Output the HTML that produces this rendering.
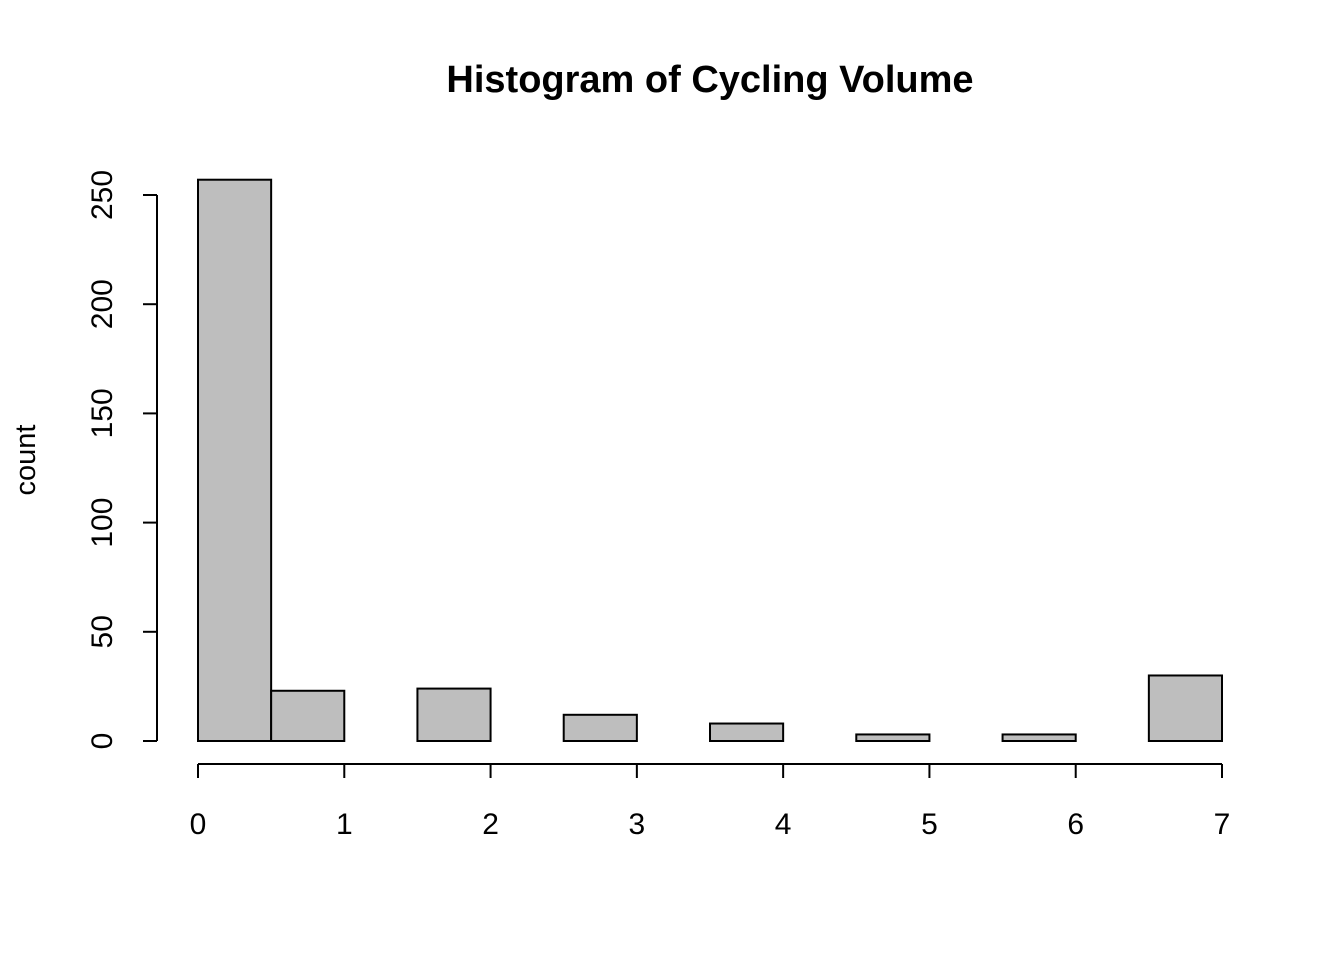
<!DOCTYPE html>
<html><head><meta charset="utf-8"><style>
html,body{margin:0;padding:0;background:#fff;}
svg{display:block;font-family:"Liberation Sans",Arial,sans-serif;}
</style></head><body>
<svg id="chart" width="1344" height="960" viewBox="0 0 1344 960">
<text x="710" y="92" text-anchor="middle" font-size="38" font-weight="bold">Histogram of Cycling Volume</text>
<text transform="translate(35,460) rotate(-90)" text-anchor="middle" font-size="29">count</text>
<g id="bars"></g>
<g id="yaxis"></g>
<g id="xaxis"></g>
</svg>
<script>
const binStarts = [0,0.5,1,1.5,2,2.5,3,3.5,4,4.5,5,5.5,6,6.5];
const counts = [257,23,0,24,0,12,0,8,0,3,0,3,0,30];
const binWidth = 0.5;
const yTicks = [0,50,100,150,200,250];
const xTicks = [0,1,2,3,4,5,6,7];

const NS = "http://www.w3.org/2000/svg";
function xs(v){ return 198 + v*(1222-198)/7; }
function ys(v){ return 741 - v*(741-195)/250; }
function mk(tag, attrs, parent){
  const e = document.createElementNS(NS, tag);
  for (const k in attrs) e.setAttribute(k, attrs[k]);
  parent.appendChild(e); return e;
}
const bars = document.getElementById('bars');
binStarts.forEach((b,i)=>{
  const x0 = xs(b), x1 = xs(b+binWidth), y0 = ys(counts[i]);
  const r = mk('rect', {x:x0, y:y0, width:x1-x0, height:ys(0)-y0, fill:'#bebebe', stroke:'#000', 'stroke-width':2}, bars);
  
  
});
const ya = document.getElementById('yaxis');
mk('line', {x1:157, x2:157, y1:ys(yTicks[0]), y2:ys(yTicks[yTicks.length-1]), stroke:'#000', 'stroke-width':2}, ya);
yTicks.forEach(t=>{
  mk('line', {x1:143, x2:157, y1:ys(t), y2:ys(t), stroke:'#000', 'stroke-width':2}, ya);
  const tx = mk('text', {transform:`translate(112,${ys(t)}) rotate(-90)`, 'text-anchor':'middle', 'font-size':30}, ya);
  tx.textContent = t;
  
  
});
const xa = document.getElementById('xaxis');
mk('line', {x1:xs(xTicks[0]), x2:xs(xTicks[xTicks.length-1]), y1:764, y2:764, stroke:'#000', 'stroke-width':2}, xa);
xTicks.forEach(t=>{
  mk('line', {x1:xs(t), x2:xs(t), y1:764, y2:778, stroke:'#000', 'stroke-width':2}, xa);
  const tx = mk('text', {x:xs(t), y:834, 'text-anchor':'middle', 'font-size':30}, xa);
  tx.textContent = t;
  
  
});
</script>
</body></html>
